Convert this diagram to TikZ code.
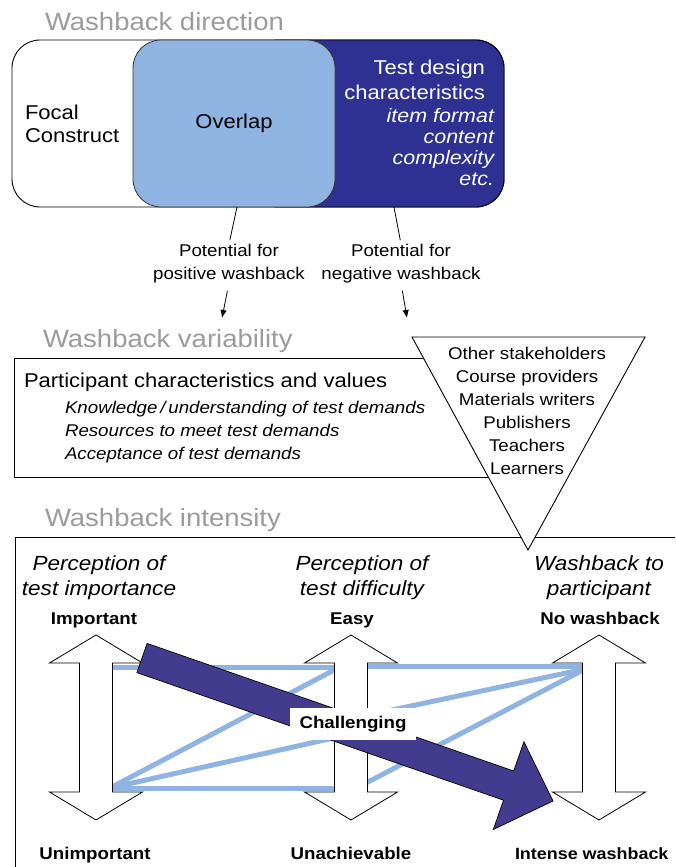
\documentclass[tikz,border=0pt]{standalone}
\usepackage{fontspec}
\setmainfont{Liberation Sans}[FakeStretch=1.1]
\usetikzlibrary{arrows.meta}
\definecolor{navy}{HTML}{2E3092}
\definecolor{darkarrow}{HTML}{433B8E}
\definecolor{lightblue}{HTML}{8FB4E1}
\definecolor{titlegray}{HTML}{9B9B9B}
\newcommand{\fsz}[2]{\fontsize{#1}{#2}\selectfont}
\tikzset{
  every node/.style={inner sep=0pt, outer sep=0pt},
  titletext/.style={font=\fsz{25}{30}, text=titlegray, anchor=base west},
  frame/.style={line width=0.9pt, draw=black},
  conn/.style={line width=0.8pt, draw=black},
  tipconn/.style={conn, -{Latex[length=8pt,width=6.5pt]}},
  blueline/.style={line width=5pt, draw=lightblue},
  boldlabel/.style={font=\bfseries\fsz{17}{20}, anchor=base},
  colhead/.style={font=\itshape\fsz{20.5}{25}, align=center, anchor=north},
  dblarrow/.pic={\draw[line width=0.8pt, fill=white]
     (0,-92.5) -- (46.5,-64.5) -- (16.5,-64.5) -- (16.5,64.5) -- (46.5,64.5)
     -- (0,92.5) -- (-46.5,64.5) -- (-16.5,64.5) -- (-16.5,-64.5) -- (-46.5,-64.5) -- cycle;}
}
\begin{document}
\begin{tikzpicture}[x=1pt,y=-1pt]
\useasboundingbox (0,0) rectangle (675,867);
\clip (0,0) rectangle (675,867);

% ---------- Washback direction ----------
\node[titletext] (dirT) at (45,31) {Washback direction};
\draw[frame, fill=white, rounded corners=28pt] (12,40) rectangle (504,207);
\draw[frame, fill=navy, rounded corners=28pt] (250,40) rectangle (504,207);
\node[draw=black!80, line width=0.8pt, fill=lightblue, rounded corners=28pt,
      minimum width=202pt, minimum height=167pt, font=\fsz{20}{24}] (overlap) at (234,123.5) {Overlap};
\node[font=\fsz{20}{23}, align=left, anchor=north west] (focal) at (25,105) {Focal\\Construct};
\node[font=\fsz{20}{25}, text=white, align=right, anchor=north east] (tdc) at (485,60) {Test design\\characteristics};
\node[font=\itshape\fsz{19.5}{21}, text=white, align=right, anchor=north east] (tdi) at (494,108) {item format\\content\\complexity\\etc.};

\coordinate (ovb) at (237,207);
\coordinate (tdb) at (394,207);
\node[font=\fsz{17}{23}, align=center, anchor=north] (pos) at (229,244) {Potential for\\positive washback};
\node[font=\fsz{17}{23}, align=center, anchor=north] (neg) at (401,244) {Potential for\\negative washback};
\draw[conn, shorten >=4pt] (ovb) -- (pos.north);
\draw[conn, shorten >=4pt] (tdb) -- (neg.north);
\coordinate (posend) at (222,318);
\coordinate (negend) at (407,318);
\draw[tipconn, shorten <=8pt] (pos.south) -- (posend);
\draw[tipconn, shorten <=8pt] (neg.south) -- (negend);

% ---------- Washback variability ----------
\node[titletext] (varT) at (43,347) {Washback variability};
\draw[frame] (14,358) rectangle (500,477);
\node[font=\fsz{20}{24}, anchor=base west] (part) at (24,387) {Participant characteristics and values};
\node[font=\itshape\fsz{17}{23}, align=left, anchor=north west] (partI) at (65,401)
  {Knowledge\,/\,understanding of test demands\\Resources to meet test demands\\Acceptance of test demands};

% ---------- Washback intensity ----------
\node[titletext] (intT) at (45,526) {Washback intensity};
\draw[frame] (15,900) -- (15,537) -- (700,537);

% stakeholder triangle
\draw[frame, fill=white] (412,337) -- (645,337) -- (528,550) -- cycle;
\node[font=\fsz{17}{23}, align=center, anchor=north] (stake) at (527,347)
  {Other stakeholders\\Course providers\\Materials writers\\Publishers\\Teachers\\Learners};

\node[colhead] (h1) at (99,556) {Perception of\\test importance};
\node[colhead] (h2) at (362,556) {Perception of\\test difficulty};
\node[colhead] (h3) at (599,556) {Washback to\\participant};

\node[boldlabel] (imp) at (94,624) {Important};
\node[boldlabel] (easy) at (352,624) {Easy};
\node[boldlabel] (nowb) at (600,624) {No washback};
\node[boldlabel] (unimp) at (95,859) {Unimportant};
\node[boldlabel] (unach) at (351,859) {Unachievable};
\node[boldlabel, anchor=base west, font=\bfseries\fsz{16.3}{20}] (intense) at (515,859) {Intense washback};

% light blue links
\draw[blueline] (110,667) -- (338,667);
\draw[blueline] (110,788) -- (338,788);
\draw[blueline] (110,788) -- (338,668);
\draw[blueline] (110,788) -- (338,737);
\draw[blueline] (364,666) -- (585,666);
\draw[blueline] (585,669) -- (364,716);
\draw[blueline] (585,669) -- (364,784);

% double arrows
\pic at (96,727.5) {dblarrow};
\pic at (351,727.5) {dblarrow};
\pic at (599,727.5) {dblarrow};

% dark arrow
\draw[line width=0.7pt, fill=darkarrow] (136.9,672.6) -- (147.1,643.4) -- (513.7,771.0)
  -- (523.9,741.7) -- (553,801) -- (493.3,829.5) -- (503.5,800.2) -- cycle;

\node[fill=white, minimum width=126pt, minimum height=32pt, font=\bfseries\fsz{17}{20}] (chal) at (353,724) {Challenging};
\end{tikzpicture}
\end{document}
